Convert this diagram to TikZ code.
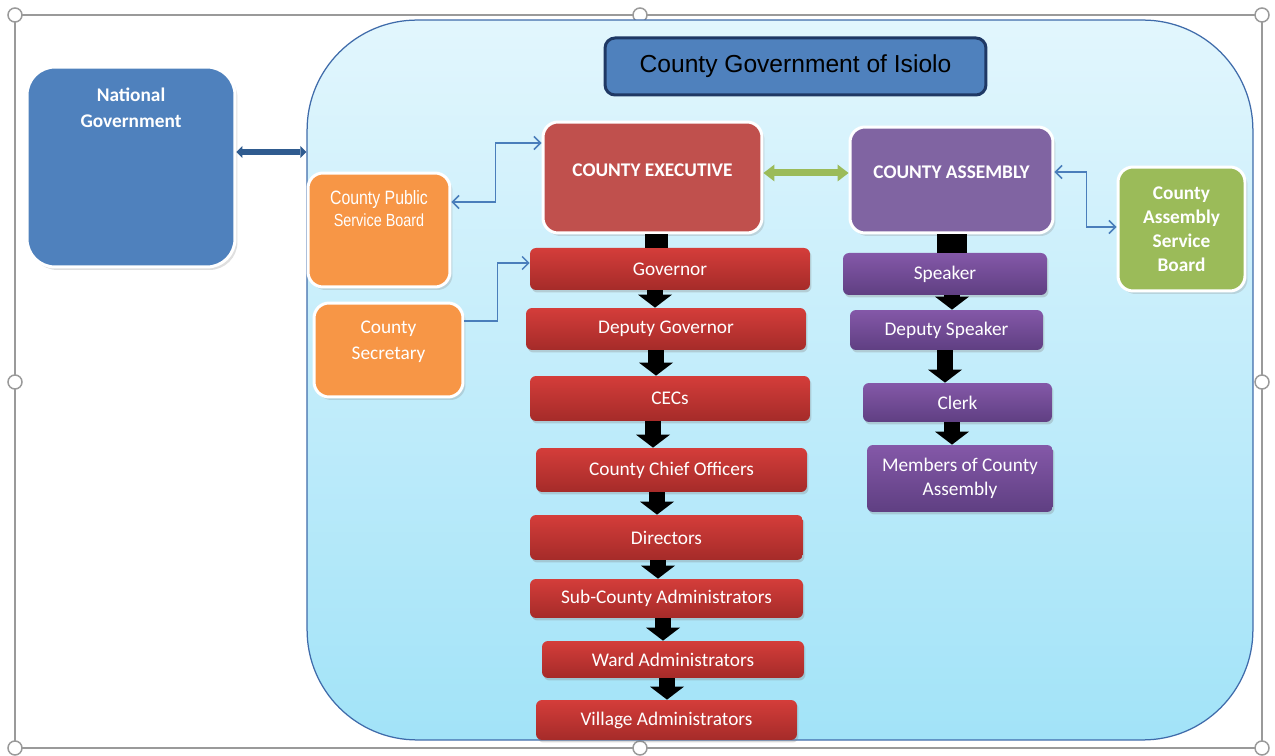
\documentclass[tikz,border=0pt]{standalone}
\usepackage{fontspec}
\setmainfont{Carlito}
\newfontfamily\arialfont{Liberation Sans}
\newfontfamily\narrowfont[FakeStretch=0.82]{Liberation Sans}
\usetikzlibrary{arrows.meta,shadows}

\definecolor{natblue}{HTML}{4F81BD}
\definecolor{navy}{HTML}{1F3864}
\definecolor{execred}{HTML}{C0504D}
\definecolor{asmpurple}{HTML}{8064A2}
\definecolor{boardgreen}{HTML}{9BBB59}
\definecolor{boardorange}{HTML}{F79646}
\definecolor{barredtop}{HTML}{D43D3A}
\definecolor{barredbot}{HTML}{A52B29}
\definecolor{barpurptop}{HTML}{8458A8}
\definecolor{barpurpbot}{HTML}{5F3F82}
\definecolor{panelborder}{HTML}{3F6BAA}
\definecolor{paneltop}{HTML}{E2F6FD}
\definecolor{panelbot}{HTML}{A2E3F8}
\definecolor{tieblue}{HTML}{4A7EBB}
\definecolor{natlinkblue}{HTML}{2F5B8F}
\definecolor{handlegray}{HTML}{9A9A9A}

\begin{document}
\begin{tikzpicture}[x=0.02cm,y=-0.02cm,
	panel/.style={draw=panelborder,line width=0.25mm,top color=paneltop,bottom color=panelbot,
		rounded corners=22mm,minimum width=189.2mm,minimum height=144mm},
	box/.style={draw=white,line width=0.6mm,rounded corners=3mm,inner sep=0pt,
		drop shadow={opacity=0.25,shadow xshift=0.5mm,shadow yshift=-0.6mm}},
	boxlabel/.style={text=white,align=center,inner sep=0pt},
	title/.style={fill=natblue,draw=navy,line width=0.6mm,rounded corners=2mm,
		font=\arialfont\fontsize{14}{16}\selectfont,minimum width=76.2mm,minimum height=11.4mm},
	redbar/.style={rounded corners=1.2mm,top color=barredtop,bottom color=barredbot,text=white,inner sep=0pt,
		drop shadow={opacity=0.3,shadow xshift=0.3mm,shadow yshift=-0.5mm},
		font=\fontsize{11}{14}\selectfont,minimum width=56mm,minimum height=8.4mm},
	purplebar/.style={redbar,top color=barpurptop,bottom color=barpurpbot,align=center},
	flow/.style={-{Triangle[width=6.8mm,length=2.6mm,line width=0pt]},line width=3.2mm,black},
	stub/.style={line width=4.6mm,black},
	link/.style={{Triangle[width=3.4mm,length=2.2mm,line width=0pt]}-{Triangle[width=3.4mm,length=2.2mm,line width=0pt]},
		line width=1.4mm,boardgreen},
	natlink/.style={{Triangle[width=2.4mm,length=1.2mm,line width=0pt]}-{Triangle[width=2.4mm,length=1.2mm,line width=0pt]},
		line width=1.2mm,natlinkblue},
	tie/.style={{Straight Barb[width=2.6mm,length=1.3mm]}-{Straight Barb[width=2.6mm,length=1.3mm]},line width=0.3mm,tieblue},
	tiein/.style={tie,-{Straight Barb[width=2.6mm,length=1.3mm]}},
	handle/.style={draw=handlegray,fill=white,line width=0.3mm}]

	\useasboundingbox (0,0) rectangle (1275,756);

	% selection frame of the picture
	\draw[handlegray,line width=0.3mm] (15,15) rectangle (1262,748);
	\foreach \hx/\hy in {15/15,640/15,1262/15,15/382,1262/382,15/748,640/748,1262/748}
		\draw[handle] (\hx,\hy) circle[radius=1.4mm];

	\node[panel] (County) at (780,380) {};

	% boxes
	\node[box,fill=natblue,minimum width=41.6mm,minimum height=40mm,rounded corners=5.6mm,
		label={[boxlabel,yshift=11.8mm,font=\bfseries\fontsize{11}{14.8}\selectfont]center:National\\Government}] (NationalGov) at (131,167) {};
	\node[title] (Title) at (795.5,66.5) {County Government of Isiolo};
	\node[box,fill=execred,minimum width=43.8mm,minimum height=22.2mm,
		label={[boxlabel,yshift=1.4mm,font=\bfseries\fontsize{11}{14}\selectfont]center:COUNTY EXECUTIVE}] (Executive) at (652.5,177.5) {};
	\node[box,fill=asmpurple,minimum width=40.6mm,minimum height=21.2mm,
		label={[boxlabel,yshift=1.6mm,font=\bfseries\fontsize{11}{14}\selectfont]center:COUNTY ASSEMBLY}] (Assembly) at (951.5,180) {};
	\node[box,fill=boardgreen,minimum width=25.4mm,minimum height=24.8mm,text=white,align=center,
		font=\bfseries\fontsize{11}{13.7}\selectfont] (AssemblyBoard) at (1181.5,229) {County\\Assembly\\Service\\Board};
	\node[box,fill=boardorange,minimum width=28.4mm,minimum height=22.8mm,
		label={[boxlabel,yshift=4.3mm,font=\narrowfont\fontsize{11}{12.5}\selectfont]center:County Public\\{\fontsize{10}{12.5}\selectfont Service Board}}] (PublicBoard) at (379,230) {};
	\node[box,fill=boardorange,minimum width=29.8mm,minimum height=18.8mm,
		label={[boxlabel,yshift=1.6mm,font=\fontsize{11}{14.8}\selectfont]center:County\\Secretary}] (Secretary) at (388.5,350) {};

	% executive chain
	\node[redbar] (Governor) at (670,269) {Governor};
	\node[redbar] (DeputyGovernor) at (666,329) {Deputy Governor};
	\node[redbar,minimum height=9mm] (CECs) at (670,398.5) {CECs};
	\node[redbar,minimum width=54.2mm,minimum height=8.8mm] (ChiefOfficers) at (671.5,470) {County Chief Officers};
	\node[redbar,minimum width=54.6mm,minimum height=9mm] (Directors) at (666.5,537.5) {Directors};
	\node[redbar,minimum width=54.6mm,minimum height=7.8mm] (SubCounty) at (666.5,598.5) {Sub-County Administrators};
	\node[redbar,minimum width=52.4mm,minimum height=7.4mm] (Ward) at (673,659.5) {Ward Administrators};
	\node[redbar,minimum width=52.2mm,minimum height=8mm] (Village) at (666.5,720) {Village Administrators};

	% assembly chain
	\node[purplebar,minimum width=40.8mm] (Speaker) at (945,274) {Speaker};
	\node[purplebar,minimum width=38.6mm,minimum height=8mm] (DeputySpeaker) at (946.5,330) {Deputy Speaker};
	\node[purplebar,minimum width=37.8mm,minimum height=7.8mm] (Clerk) at (957.5,402.5) {Clerk};
	\node[purplebar,minimum width=37.2mm,minimum height=13.4mm,font=\fontsize{11}{13.7}\selectfont] (Members) at (960,478.5) {Members of County\\Assembly};

	% links
	\coordinate (natport) at ([yshift=3mm]NationalGov.east);
	\draw[natlink] (natport) -- (natport -| County.west);
	\draw[link] ([yshift=0.9mm]Executive.east) -- ([yshift=0.9mm]Executive.east -| Assembly.west);
	\draw[tie] ([yshift=5.6mm]PublicBoard.east) -- ++(44,0) |- ([yshift=6.9mm]Executive.west);
	\draw[tiein] ([yshift=5.8mm]Secretary.east) -- ++(33,0) |- ([yshift=1.2mm]Governor.west);
	\draw[tie] ([yshift=1.6mm]Assembly.east) -- ++(32,0) |- ([yshift=0.4mm]AssemblyBoard.west);

	\path[stub]
		([xshift=0.8mm]Executive.south) edge ([xshift=0.8mm]Executive.south |- Governor.north)
		(Assembly.south) edge [line width=6mm] (Assembly.south |- Speaker.north);

	\path[flow]
		([xshift=-3mm]Governor.south) edge ([xshift=-3mm]Governor.south |- DeputyGovernor.north)
		([xshift=-2mm]DeputyGovernor.south) edge ([xshift=-2mm]DeputyGovernor.south |- CECs.north)
		([xshift=-3.4mm]CECs.south) edge ([xshift=-3.4mm]CECs.south |- ChiefOfficers.north)
		([xshift=-2.9mm]ChiefOfficers.south) edge ([xshift=-2.9mm]ChiefOfficers.south |- Directors.north)
		([xshift=-1.7mm]Directors.south) edge ([xshift=-1.7mm]Directors.south |- SubCounty.north)
		([xshift=-0.7mm]SubCounty.south) edge ([xshift=-0.7mm]SubCounty.south |- Ward.north)
		([xshift=-1.2mm]Ward.south) edge ([xshift=-1.2mm]Ward.south |- Village.north)
		([xshift=1.4mm]Speaker.south) edge ([xshift=1.4mm]Speaker.south |- DeputySpeaker.north)
		([xshift=-0.3mm]DeputySpeaker.south) edge ([xshift=-0.3mm]DeputySpeaker.south |- Clerk.north)
		([xshift=-1.1mm]Clerk.south) edge ([xshift=-1.1mm]Clerk.south |- Members.north);
\end{tikzpicture}
\end{document}
